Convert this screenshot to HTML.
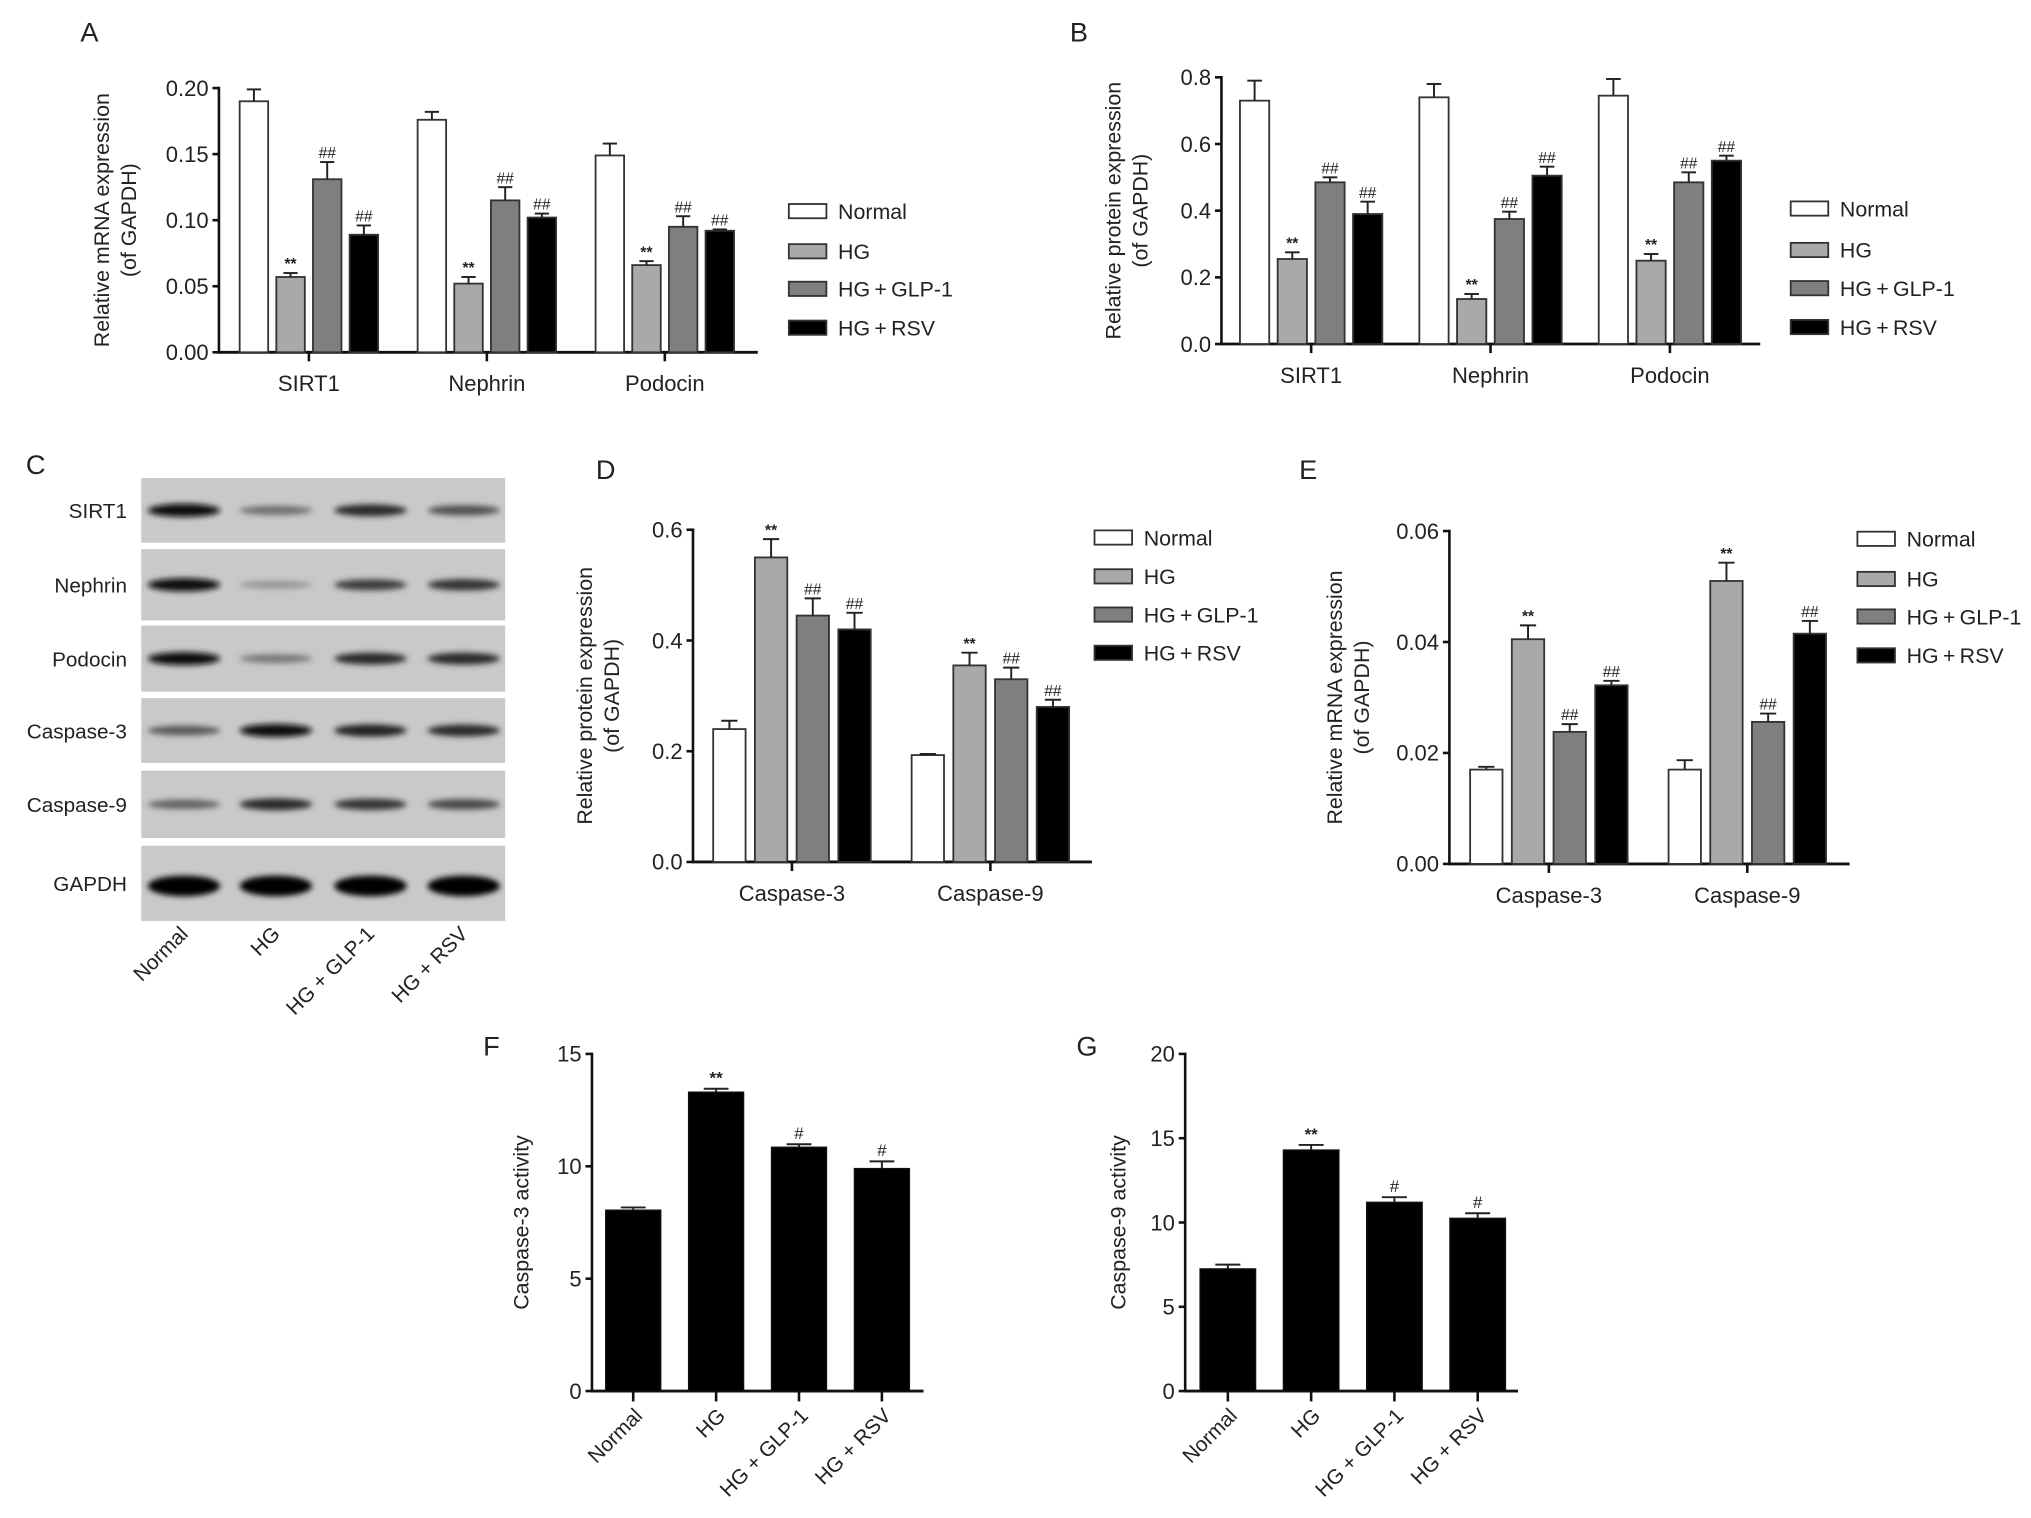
<!DOCTYPE html>
<html><head><meta charset="utf-8"><style>
html,body{margin:0;padding:0;background:#fff;}
svg{display:block;}
text{font-family:"Liberation Sans",Arial,sans-serif;fill:#222;}
</style></head>
<body>
<svg id="fig" width="2031" height="1518" viewBox="0 0 1568 1172" xmlns="http://www.w3.org/2000/svg">
<defs><filter id="blur" x="-20%" y="-100%" width="140%" height="300%"><feGaussianBlur stdDeviation="2.2"/></filter></defs>
</svg>
<script>
// ===== DATA =====
const seriesNames = ["Normal","HG","HG\u2009+\u2009GLP-1","HG\u2009+\u2009RSV"];
const seriesColors = ["#ffffff","#a9a9a9","#7f7f7f","#000000"];

const aCategories = ["SIRT1","Nephrin","Podocin"];
const aNormal = [0.190,0.176,0.149];
const aHG     = [0.057,0.052,0.066];
const aGLP    = [0.131,0.115,0.095];
const aRSV    = [0.089,0.102,0.092];
const aNormalErr = [0.009,0.006,0.009];
const aHGErr     = [0.003,0.005,0.003];
const aGLPErr    = [0.013,0.010,0.008];
const aRSVErr    = [0.007,0.003,0.001];
const aTicks = [0,0.05,0.10,0.15,0.20];
const aTickLabels = ["0.00","0.05","0.10","0.15","0.20"];

const bCategories = ["SIRT1","Nephrin","Podocin"];
const bNormal = [0.73,0.74,0.745];
const bHG     = [0.255,0.135,0.25];
const bGLP    = [0.485,0.375,0.485];
const bRSV    = [0.39,0.505,0.55];
const bNormalErr = [0.06,0.04,0.05];
const bHGErr     = [0.02,0.015,0.02];
const bGLPErr    = [0.015,0.022,0.03];
const bRSVErr    = [0.037,0.027,0.015];
const bTicks = [0,0.2,0.4,0.6,0.8];
const bTickLabels = ["0.0","0.2","0.4","0.6","0.8"];

const dCategories = ["Caspase-3","Caspase-9"];
const dNormal = [0.240,0.193];
const dHG     = [0.550,0.355];
const dGLP    = [0.445,0.330];
const dRSV    = [0.420,0.280];
const dNormalErr = [0.015,0.002];
const dHGErr     = [0.033,0.023];
const dGLPErr    = [0.031,0.021];
const dRSVErr    = [0.030,0.013];
const dTicks = [0,0.2,0.4,0.6];
const dTickLabels = ["0.0","0.2","0.4","0.6"];

const eCategories = ["Caspase-3","Caspase-9"];
const eNormal = [0.0170,0.0170];
const eHG     = [0.0405,0.0510];
const eGLP    = [0.0238,0.0256];
const eRSV    = [0.0322,0.0415];
const eNormalErr = [0.0005,0.0017];
const eHGErr     = [0.0025,0.0033];
const eGLPErr    = [0.0014,0.0015];
const eRSVErr    = [0.0008,0.0023];
const eTicks = [0,0.02,0.04,0.06];
const eTickLabels = ["0.00","0.02","0.04","0.06"];

const groupAnnot = ["","**","##","##"];

const fgCategories = ["Normal","HG","HG + GLP-1","HG + RSV"];
const fValues = [8.05,13.3,10.85,9.9];
const fErrors = [0.12,0.15,0.13,0.32];
const fAnnot = ["","**","#","#"];
const fTicks = [0,5,10,15];
const fTickLabels = ["0","5","10","15"];

const gValues = [7.25,14.3,11.2,10.25];
const gErrors = [0.25,0.3,0.3,0.3];
const gAnnot = ["","**","#","#"];
const gTicks = [0,5,10,15,20];
const gTickLabels = ["0","5","10","15","20"];

const blotProteins = ["SIRT1","Nephrin","Podocin","Caspase-3","Caspase-9","GAPDH"];
const blotSIRT1 = [0.95,0.45,0.8,0.6];
const blotNephrin = [0.95,0.25,0.7,0.75];
const blotPodocin = [0.95,0.4,0.8,0.8];
const blotCasp3 = [0.55,0.95,0.85,0.8];
const blotCasp9 = [0.5,0.8,0.75,0.65];
const blotGAPDH = [1,1,1,1];
const blotLanes = ["Normal","HG","HG + GLP-1","HG + RSV"];

// ===== DRAWING =====
const NS = "http://www.w3.org/2000/svg";
const svg = document.getElementById('fig');
function mk(tag, attrs, parent, txt){
  const e = document.createElementNS(NS, tag);
  for (const k in attrs) e.setAttribute(k, attrs[k]);
  if (txt !== undefined) e.textContent = txt;
  (parent || svg).appendChild(e);
  return e;
}
function scaleY(v, c){ return c.yBot - (v / c.max) * (c.yBot - c.yTop); }

function panelLetter(letter, x, y){
  const t = mk('text', {x:x, y:y, 'font-size':21}, svg, letter);
  
  
}

function axes(c, g, ticks, tickLabels, pid){
  const ya = mk('line', {x1:c.axisX, y1:c.yTop-1, x2:c.axisX, y2:c.yBot, stroke:'#111', 'stroke-width':2}, g);
  
  
  const xa = mk('line', {x1:c.axisX-1, y1:c.yBot, x2:c.axisEnd, y2:c.yBot, stroke:'#111', 'stroke-width':2.2}, g);
  
  
  ticks.forEach((v,i)=>{
    const y = scaleY(v, c);
    const tk = mk('line', {x1:c.axisX-5, y1:y, x2:c.axisX, y2:y, stroke:'#111', 'stroke-width':2}, g);
    
    
    const tl = mk('text', {x:c.axisX-8, y:y+6, 'font-size':17, 'text-anchor':'end'}, g, tickLabels[i]);
    
    
  });
  const tt = mk('g', {transform:'translate(' + c.titleX + ',' + ((c.yTop + c.yBot)/2) + ') rotate(-90)'}, g);
  
  
  c.title.forEach((line, i)=>{
    const t = mk('text', {x:0, y:i*c.titleGap, 'font-size':16.5, 'text-anchor':'middle'}, tt, line);
    
    
  });
}

function errBar(x, yTop, yErr, capW, g, pid){
  const l = mk('line', {x1:x, y1:yTop, x2:x, y2:yErr, stroke:'#222', 'stroke-width':1.5}, g);
  
  
  const cp = mk('line', {x1:x-capW/2, y1:yErr, x2:x+capW/2, y2:yErr, stroke:'#222', 'stroke-width':1.5}, g);
  
  
}

function groupedChart(c, pid, cats, series, errs, ticks, tickLabels){
  const g = mk('g', {}, svg);
  
  
  axes(c, g, ticks, tickLabels, pid);
  cats.forEach((cat, ci)=>{
    const gx = c.barStart + ci * c.groupStep;
    series.forEach((vals, si)=>{
      const x = gx + si * c.barStep;
      const y = scaleY(vals[ci], c);
      const r = mk('rect', {x:x, y:y, width:c.barW, height:c.yBot - y, fill:seriesColors[si], stroke:'#333', 'stroke-width':1.4}, g);
      
      
      const ye = scaleY(vals[ci] + errs[si][ci], c);
      errBar(x + c.barW/2, y, ye, c.barW*0.5, g, pid);
      if (groupAnnot[si]) {
        const an = mk('text', {x:x + c.barW/2, y:ye - 3, 'font-size':12, 'text-anchor':'middle', 'font-weight': si===1 ? 'bold':'normal', fill: si===1 ? '#222':'#666'}, g, groupAnnot[si]);
        
        
      }
    });
    const cx = gx + 1.5 * c.barStep + c.barW/2;
    const tk = mk('line', {x1:cx, y1:c.yBot, x2:cx, y2:c.yBot+7, stroke:'#111', 'stroke-width':2}, g);
    
    
    const cl = mk('text', {x:cx, y:c.yBot + 30, 'font-size':17, 'text-anchor':'middle'}, g, cat);
    
    
  });
  const lg = mk('g', {}, svg);
  
  
  c.legendY.forEach((ly, si)=>{
    const b = mk('rect', {x:c.legendX, y:ly-5.5, width:29, height:11, fill:seriesColors[si], stroke:'#333', 'stroke-width':1.4}, lg);
    
    
    const t = mk('text', {x:c.legendX + 38, y:ly + 6, 'font-size':16.5}, lg, seriesNames[si]);
    
    
  });
}

function singleChart(c, pid, cats, vals, errs, annots, ticks, tickLabels){
  const g = mk('g', {}, svg);
  
  
  axes(c, g, ticks, tickLabels, pid);
  cats.forEach((cat, i)=>{
    const x = c.barStart + i * c.barStep;
    const y = scaleY(vals[i], c);
    const r = mk('rect', {x:x, y:y, width:c.barW, height:c.yBot - y, fill:'#000', stroke:'#111', 'stroke-width':1}, g);
    
    
    const ye = scaleY(vals[i] + errs[i], c);
    errBar(x + c.barW/2, y, ye, c.barW*0.45, g, pid);
    if (annots[i]) {
      const an = mk('text', {x:x + c.barW/2, y:ye - 4, 'font-size':13, 'text-anchor':'middle', 'font-weight': annots[i]==='**' ? 'bold':'normal'}, g, annots[i]);
      
      
    }
    const cx = x + c.barW/2;
    const tk = mk('line', {x1:cx, y1:c.yBot, x2:cx, y2:c.yBot+8, stroke:'#111', 'stroke-width':2}, g);
    
    
    const lx = cx + 8, ly = c.yBot + 20;
    const cl = mk('text', {x:lx, y:ly, 'font-size':16, 'text-anchor':'end', transform:'rotate(-45 ' + lx + ' ' + ly + ')'}, g, cat);
    
    
  });
}

panelLetter('A', 62, 32);
groupedChart({axisX:169, axisEnd:585, yTop:68, yBot:272, max:0.20, barStart:185, barStep:28.3, barW:22, groupStep:137.4,
  titleX:84, titleGap:21, title:["Relative mRNA expression","(of GAPDH)"], legendX:609, legendY:[163,194,223,253]},
  'panel-a', aCategories, [aNormal,aHG,aGLP,aRSV], [aNormalErr,aHGErr,aGLPErr,aRSVErr], aTicks, aTickLabels);

panelLetter('B', 826, 32);
groupedChart({axisX:943, axisEnd:1359, yTop:59.7, yBot:265.6, max:0.8, barStart:957.3, barStep:29.1, barW:22.6, groupStep:138.5,
  titleX:865, titleGap:21, title:["Relative protein expression","(of GAPDH)"], legendX:1382.5, legendY:[161,193,222.5,252.5]},
  'panel-b', bCategories, [bNormal,bHG,bGLP,bRSV], [bNormalErr,bHGErr,bGLPErr,bRSVErr], bTicks, bTickLabels);

panelLetter('D', 460, 370);
groupedChart({axisX:535, axisEnd:843, yTop:409, yBot:665.5, max:0.6, barStart:550.6, barStep:32.2, barW:25, groupStep:153.2,
  titleX:457, titleGap:21, title:["Relative protein expression","(of GAPDH)"], legendX:845, legendY:[415,445,474.5,504]},
  'panel-d', dCategories, [dNormal,dHG,dGLP,dRSV], [dNormalErr,dHGErr,dGLPErr,dRSVErr], dTicks, dTickLabels);

panelLetter('E', 1003, 370);
groupedChart({axisX:1119, axisEnd:1428, yTop:410, yBot:667, max:0.06, barStart:1135, barStep:32.2, barW:25, groupStep:153.2,
  titleX:1036, titleGap:21, title:["Relative mRNA expression","(of GAPDH)"], legendX:1434, legendY:[416,447,476,506]},
  'panel-e', eCategories, [eNormal,eHG,eGLP,eRSV], [eNormalErr,eHGErr,eGLPErr,eRSVErr], eTicks, eTickLabels);

panelLetter('F', 373, 815);
singleChart({axisX:457, axisEnd:713, yTop:813.7, yBot:1074, max:15, barStart:467.6, barStep:64, barW:42.5,
  titleX:408, titleGap:0, title:["Caspase-3 activity"]}, 'panel-f', fgCategories, fValues, fErrors, fAnnot, fTicks, fTickLabels);

panelLetter('G', 831, 815);
singleChart({axisX:915, axisEnd:1172, yTop:813.7, yBot:1074, max:20, barStart:926.5, barStep:64.3, barW:42.9,
  titleX:869, titleGap:0, title:["Caspase-9 activity"]}, 'panel-g', fgCategories, gValues, gErrors, gAnnot, gTicks, gTickLabels);

panelLetter('C', 20, 366);
const blotG = mk('g', {}, svg);


const blotRows = [[369,419],[424,479],[483,534],[539,589],[595,647],[653,711]];
const blotData = [blotSIRT1, blotNephrin, blotPodocin, blotCasp3, blotCasp9, blotGAPDH];
const laneX = [142,213,286,358];
blotProteins.forEach((p, ri)=>{
  const [y0, y1] = blotRows[ri];
  const bg = mk('rect', {x:109, y:y0, width:281, height:y1-y0, fill:'#c9c9c9'}, blotG);
  
  
  const lab = mk('text', {x:98, y:(y0+y1)/2 + 6, 'font-size':16, 'text-anchor':'end'}, blotG, p);
  
  
  const yc = (y0 + y1)/2 + (ri === 5 ? 2 : 0);
  blotData[ri].forEach((v, li)=>{
    const gray = Math.round(195 - 190 * v);
    const ry = ri === 5 ? 8 : 2.2 + 3 * v;
    const band = mk('ellipse', {cx:laneX[li], cy:yc, rx:28, ry:ry, fill:'rgb(' + gray + ',' + gray + ',' + gray + ')', filter:'url(#blur)'}, blotG);
    
    
  });
});
blotLanes.forEach((ln, li)=>{
  const lx = laneX[li] + 4, ly = 722;
  const t = mk('text', {x:lx, y:ly, 'font-size':16, 'text-anchor':'end', transform:'rotate(-45 ' + lx + ' ' + ly + ')'}, blotG, ln);
  
  
});
</script>
</body></html>
